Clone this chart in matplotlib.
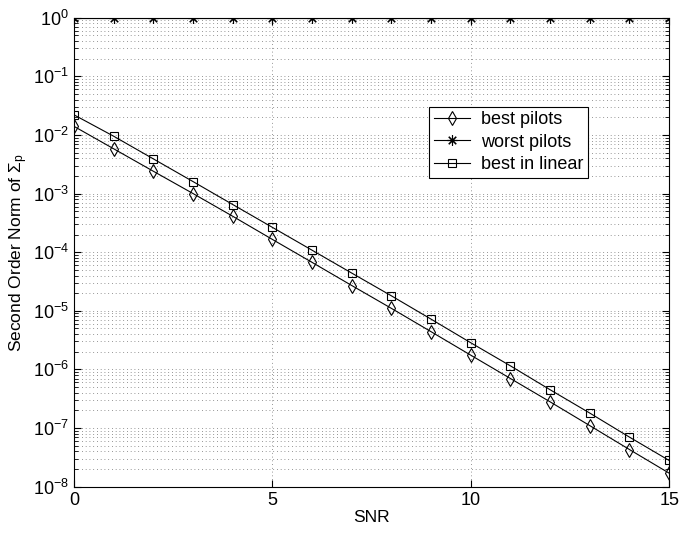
import numpy as np
import matplotlib
matplotlib.use('Agg')
import matplotlib.pyplot as plt
from matplotlib.ticker import LogLocator, NullFormatter

plt.rcParams['font.family'] = ['Liberation Sans', 'DejaVu Sans']
plt.rcParams['mathtext.fontset'] = 'custom'
plt.rcParams['mathtext.rm'] = 'Liberation Sans'
plt.rcParams['mathtext.it'] = 'Liberation Sans'

snr = list(range(16))
best_pilots = [1.4e-2, 5.8e-3, 2.4e-3, 1.0e-3, 4.1e-4, 1.65e-4, 6.7e-5, 2.7e-5,
               1.1e-5, 4.4e-6, 1.75e-6, 7.0e-7, 2.8e-7, 1.1e-7, 4.3e-8, 1.7e-8]
worst_pilots = [1.0] * 16
best_linear = [2.2e-2, 9.5e-3, 3.9e-3, 1.6e-3, 6.5e-4, 2.65e-4, 1.08e-4, 4.4e-5,
               1.8e-5, 7.2e-6, 2.85e-6, 1.15e-6, 4.5e-7, 1.8e-7, 7.0e-8, 2.8e-8]

fig = plt.figure(figsize=(6.92, 5.36), dpi=100)
ax = fig.add_axes([0.107, 0.092, 0.86, 0.875])

ax.semilogy(snr, best_pilots, '-', color='k', lw=0.8, marker='d', mfc='none',
            mec='k', ms=7.5, mew=0.8, label='best pilots')
ax.semilogy(snr, worst_pilots, '-', color='k', lw=0.8, marker=(8, 2, 0),
            mec='k', ms=7.5, mew=0.8, label='worst pilots')
ax.semilogy(snr, best_linear, '-', color='k', lw=0.8, marker='s', mfc='none',
            mec='k', ms=6, mew=0.8, label='best in linear')

ax.set_xlim(0, 15)
ax.set_ylim(1e-8, 1e0)
ax.set_xticks([0, 5, 10, 15])
ax.yaxis.set_major_locator(LogLocator(base=10, numticks=20))
ax.yaxis.set_minor_locator(LogLocator(base=10, subs=np.arange(2, 10), numticks=200))
ax.yaxis.set_minor_formatter(NullFormatter())
ax.xaxis.offsetText.set_visible(False)
ax.yaxis.offsetText.set_visible(False)

ax.tick_params(which='both', direction='in', top=True, right=True, labelsize=13)
ax.tick_params(which='major', length=5)
ax.tick_params(which='minor', length=3)

grid_style = dict(linestyle=(0, (1, 3.5)), color='0.45', lw=0.6)
ax.grid(True, which='major', axis='x', **grid_style)
ax.grid(True, which='both', axis='y', **grid_style)

ax.set_xlabel('SNR', fontsize=12.5, labelpad=1)
ax.set_ylabel(r'Second Order Norm of $\Sigma_p$', fontsize=12.5, labelpad=2)

leg = ax.legend(loc='upper left', bbox_to_anchor=(0.597, 0.81), fontsize=13,
                fancybox=False, edgecolor='k', framealpha=1, borderpad=0.25,
                borderaxespad=0, labelspacing=0.3, handlelength=2.0,
                handletextpad=0.6)
leg.get_frame().set_linewidth(0.8)

fig.savefig('out.png', dpi=100)
